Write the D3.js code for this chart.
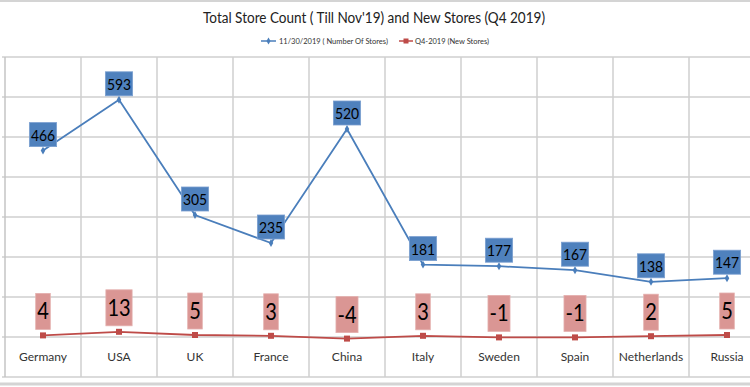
<!DOCTYPE html>
<html>
<head>
<meta charset="utf-8">
<script src="https://cdn.jsdelivr.net/npm/d3@7"></script>
<style>
  body { margin: 0; background: #fff; }
  svg { display: block; font-family: Lato, "Open Sans", sans-serif; }
</style>
</head>
<body>
<svg id="chart"></svg>
<script>
const countries = ["Germany", "USA", "UK", "France", "China", "Italy", "Sweden", "Spain", "Netherlands", "Russia"];
const storeCount = [466, 593, 305, 235, 520, 181, 177, 167, 138, 147];
const newStores = [4, 13, 5, 3, -4, 3, -1, -1, 2, 5];
const yTicks = [-100, 0, 100, 200, 300, 400, 500, 600, 700];

const width = 750, height = 387;
const svg = d3.select("#chart").attr("width", width).attr("height", height);

// the plot runs past the right edge, as in the reference crop
const x = d3.scaleBand().domain(countries).range([5, 765]);
const y = d3.scaleLinear().domain([-100, 700]).range([377, 57]);
const cx = d => x(d) + x.bandwidth() / 2;

// outer border lines
svg.append("line").attr("x1", 0).attr("x2", width).attr("y1", 1).attr("y2", 1)
  .attr("stroke", "#d4d4d4").attr("stroke-width", 2);
svg.append("line").attr("x1", 0).attr("x2", width).attr("y1", 384).attr("y2", 384)
  .attr("stroke", "#d4d4d4").attr("stroke-width", 3);

// horizontal grid
svg.append("g").selectAll("line").data(yTicks).join("line")
  .attr("x1", 2).attr("x2", width)
  .attr("y1", d => y(d)).attr("y2", d => y(d))
  .attr("stroke", "#cfcfcf").attr("stroke-width", 1.5);

// vertical grid
svg.append("g").selectAll("line").data(countries.slice(1)).join("line")
  .attr("x1", d => x(d)).attr("x2", d => x(d))
  .attr("y1", y(700)).attr("y2", y(-100))
  .attr("stroke", "#cfcfcf").attr("stroke-width", 1.5);

// left axis line
svg.append("line").attr("x1", 5).attr("x2", 5).attr("y1", y(700)).attr("y2", y(-100))
  .attr("stroke", "#c4c4c4").attr("stroke-width", 1.5);

// category labels
svg.append("g").selectAll("text").data(countries).join("text")
  .attr("x", d => cx(d)).attr("y", 361)
  .attr("text-anchor", "middle")
  .attr("font-size", 12).attr("fill", "#333")
  .text(d => d);

// title (squeezed a little, the original font is narrower)
svg.append("text").attr("x", 374).attr("y", 23).attr("text-anchor", "middle")
  .attr("font-size", 15.5).attr("fill", "#222")
  .attr("textLength", 342).attr("lengthAdjust", "spacingAndGlyphs")
  .text("Total Store Count ( Till Nov'19) and New Stores (Q4 2019)");

// legend
const leg = svg.append("g").attr("font-size", 7.5).attr("fill", "#333");
leg.append("line").attr("x1", 261).attr("x2", 276).attr("y1", 41).attr("y2", 41)
  .attr("stroke", "#4a7ebb").attr("stroke-width", 1.5);
leg.append("path").attr("d", d3.symbol(d3.symbolDiamond, 14)())
  .attr("transform", "translate(268.5,41)").attr("fill", "#4a7ebb");
leg.append("text").attr("x", 279).attr("y", 44).text("11/30/2019  ( Number Of Stores)");
leg.append("line").attr("x1", 399).attr("x2", 413).attr("y1", 41).attr("y2", 41)
  .attr("stroke", "#be4b48").attr("stroke-width", 1.5);
leg.append("rect").attr("x", 403.5).attr("y", 38.5).attr("width", 5).attr("height", 5)
  .attr("fill", "#be4b48");
leg.append("text").attr("x", 415).attr("y", 44).text("Q4-2019  (New Stores)");

const storeData = countries.map((c, i) => ({ c, v: storeCount[i] }));
const newData = countries.map((c, i) => ({ c, v: newStores[i] }));

const line = d3.line().x(d => cx(d.c)).y(d => y(d.v));

// series lines
svg.append("path").datum(storeData).attr("d", line)
  .attr("fill", "none").attr("stroke", "#4a7ebb").attr("stroke-width", 1.8);
svg.append("path").datum(newData).attr("d", line)
  .attr("fill", "none").attr("stroke", "#be4b48").attr("stroke-width", 1.8);

// markers
svg.append("g").selectAll("path").data(storeData).join("path")
  .attr("d", d3.symbol(d3.symbolDiamond, 18)())
  .attr("transform", d => `translate(${cx(d.c)},${y(d.v)})`)
  .attr("fill", "#4a7ebb");
svg.append("g").selectAll("rect").data(newData).join("rect")
  .attr("x", d => cx(d.c) - 3).attr("y", d => y(d.v) - 3)
  .attr("width", 6).attr("height", 6)
  .attr("fill", "#be4b48");

// data labels: box sized to the (slightly squeezed) text
function labels(data, opts) {
  const g = svg.append("g");
  data.forEach(d => {
    const lg = g.append("g");
    const rect = lg.append("rect").attr("fill", opts.fill).attr("stroke", opts.stroke).attr("stroke-width", 0.8);
    const t = lg.append("text")
      .attr("text-anchor", "middle")
      .attr("font-size", opts.size).attr("fill", "#000")
      .attr("x", cx(d.c))
      .text(d.v);
    const tw = t.node().getComputedTextLength() * 0.87;
    t.attr("textLength", tw).attr("lengthAdjust", "spacingAndGlyphs");
    const w = tw + opts.padX * 2;
    const bottom = y(d.v) - opts.gap;
    const top = bottom - opts.h;
    rect.attr("x", cx(d.c) - w / 2).attr("y", top).attr("width", w).attr("height", opts.h);
    t.attr("y", top + opts.base);
  });
}

labels(storeData, { fill: "#4f81bd", stroke: "#7a9fd0", size: 16, padX: 1.5, h: 24, gap: 4, base: 18 });
labels(newData, { fill: "#da9694", stroke: "#e4b0ae", size: 23, padX: 1.5, h: 36, gap: 6, base: 26 });
</script>
</body>
</html>
